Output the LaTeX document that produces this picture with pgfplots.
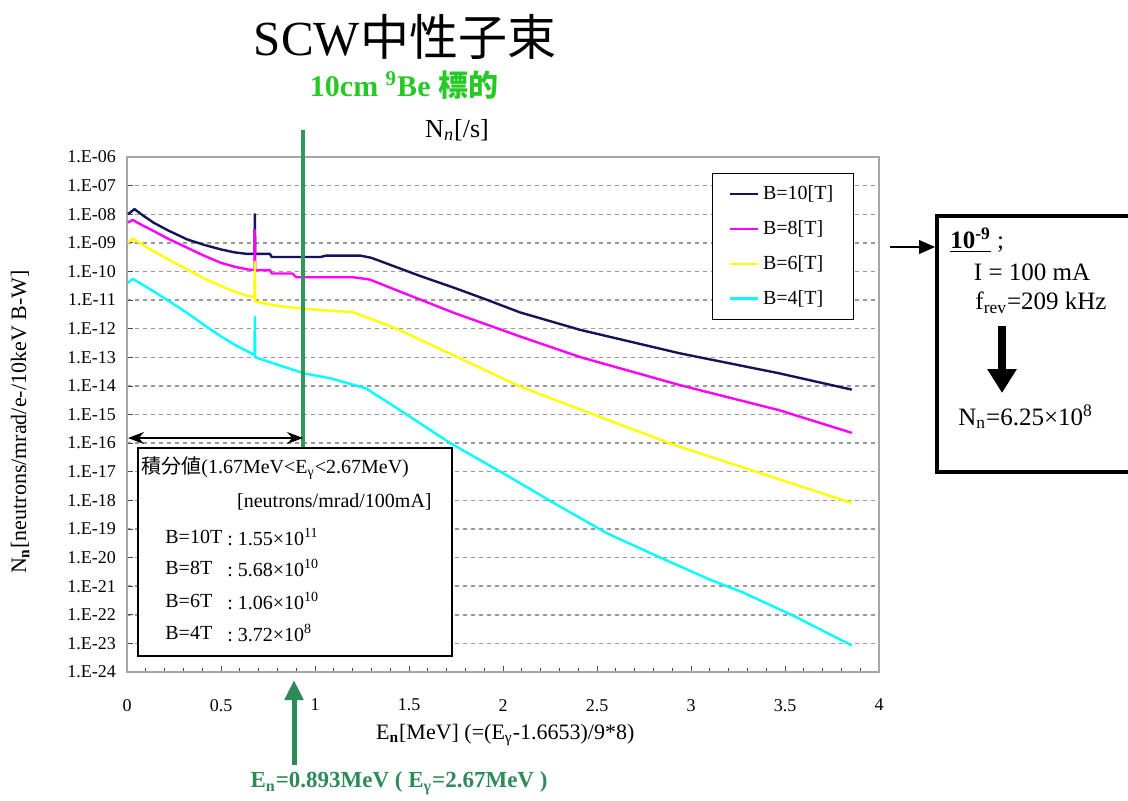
\documentclass[border=0pt]{standalone}
\usepackage{fontspec}
\setmainfont{Liberation Serif}
\newfontfamily\cjk{Noto Sans CJK JP}
\usepackage{pgfplots}
\pgfplotsset{compat=1.18}
\usetikzlibrary{arrows.meta}
\definecolor{navyc}{RGB}{20,20,90}
\definecolor{magc}{RGB}{255,0,255}
\definecolor{yelc}{RGB}{255,255,0}
\definecolor{cyac}{RGB}{0,255,255}
\definecolor{gline}{RGB}{50,150,90}
\definecolor{gtext}{RGB}{40,200,40}
\definecolor{gbot}{RGB}{46,139,87}
\begin{document}
\begin{tikzpicture}
\useasboundingbox (0,0) rectangle (564pt,-400pt);
\begin{axis}[
  at={(63.5pt,-336pt)}, anchor=south west,
  scale only axis, width=376pt, height=257.5pt,
  xmin=0, xmax=4, ymode=log, ymin=1e-24, ymax=1e-6,
  axis line style={gray!70, line width=0.6pt},
  xtick={0,0.5,1,1.5,2,2.5,3,3.5,4},
  xticklabels={0,0.5,1,1.5,2,2.5,3,3.5,4},
  minor x tick num=4,
  ytick={1e-24,1e-23,1e-22,1e-21,1e-20,1e-19,1e-18,1e-17,1e-16,1e-15,1e-14,1e-13,1e-12,1e-11,1e-10,1e-9,1e-8,1e-7,1e-6},
  yticklabels={1.E-24,1.E-23,1.E-22,1.E-21,1.E-20,1.E-19,1.E-18,1.E-17,1.E-16,1.E-15,1.E-14,1.E-13,1.E-12,1.E-11,1.E-10,1.E-09,1.E-08,1.E-07,1.E-06},
  yminorticks=false,
  tick align=inside, tick pos=left,
  major tick length=3pt, minor tick length=2pt,
  tick style={gray!60!black, thin},
  ymajorgrids, major grid style={dash pattern=on 2pt off 2pt, gray!80, line width=0.7pt},
  tick label style={font=\fontsize{9}{10}\selectfont},
  xticklabel style={yshift=-10pt},
  yticklabel style={xshift=-2pt},
  xlabel={E\textsubscript{\textbf{n}}[MeV] (=(E\textsubscript{γ}-1.6653)/9*8)},
  ylabel={N\textsubscript{\textbf{n}}[neutrons/mrad/e-/10keV B-W]},
  label style={font=\fontsize{11}{12}\selectfont},
  xlabel style={at={(axis description cs:0.503,-0.122)}, anchor=center},
  ylabel style={at={(axis description cs:-0.142,0.485)}, anchor=center},
  legend style={at={(axis description cs:0.778,0.969)}, anchor=north west, draw=black, line width=0.6pt, fill=white, font=\fontsize{10}{11}\selectfont, row sep=5pt, inner xsep=8pt, inner ysep=4pt},
  legend cell align=left,
  legend image code/.code={\draw[#1, line width=1.2pt] (0pt,0pt) -- (14pt,0pt);},
  every axis plot/.append style={line width=1.2pt, line join=round},
]
\addplot[navyc] coordinates {(0.005,1.00e-8)(0.04,1.51e-8)(0.08,9.55e-9)(0.14,5.13e-9)(0.22,2.69e-9)(0.32,1.32e-9)(0.41,8.51e-10)(0.50,5.89e-10)(0.57,4.68e-10)(0.64,4.1e-10)(0.678,4.1e-10)(0.68,1.0e-8)(0.682,4.1e-10)(0.76,4.1e-10)(0.77,3.2e-10)(1.03,3.2e-10)(1.06,3.6e-10)(1.24,3.6e-10)(1.30,3.0e-10)(1.38,1.91e-10)(1.56,6.92e-11)(1.74,2.69e-11)(1.91,1.05e-11)(2.09,3.72e-12)(2.41,9.12e-13)(2.94,1.38e-13)(3.47,2.75e-14)(3.855,7.41e-15)};
\addlegendentry{B=10[T]}
\addplot[magc] coordinates {(0.005,5.13e-9)(0.03,6.31e-9)(0.08,4.17e-9)(0.14,2.63e-9)(0.22,1.38e-9)(0.32,6.76e-10)(0.41,3.55e-10)(0.50,2.00e-10)(0.57,1.48e-10)(0.64,1.18e-10)(0.678,1.12e-10)(0.68,2.82e-9)(0.682,1.12e-10)(0.76,1.12e-10)(0.77,8.5e-11)(0.88,8.5e-11)(0.90,6.3e-11)(1.20,6.3e-11)(1.29,5.25e-11)(1.47,1.78e-11)(1.74,3.55e-12)(2.09,5.37e-13)(2.41,1.02e-13)(2.94,1.07e-14)(3.47,1.41e-15)(3.855,2.29e-16)};
\addlegendentry{B=8[T]}
\addplot[yelc] coordinates {(0.005,1.02e-9)(0.03,1.41e-9)(0.08,8.91e-10)(0.14,5.13e-10)(0.22,2.63e-10)(0.32,1.18e-10)(0.41,5.75e-11)(0.50,3.09e-11)(0.57,2.0e-11)(0.64,1.4e-11)(0.678,1.3e-11)(0.68,2.19e-10)(0.682,8.9e-12)(0.80,6.3e-12)(0.94,5.0e-12)(1.03,4.5e-12)(1.20,3.8e-12)(1.38,1.38e-12)(1.45,8.91e-13)(1.74,1.15e-13)(2.09,9.55e-15)(2.51,8.51e-16)(2.91,8.71e-17)(3.37,8.91e-18)(3.855,8.13e-19)};
\addlegendentry{B=6[T]}
\addplot[cyac] coordinates {(0.005,3.98e-11)(0.03,5.50e-11)(0.08,3.55e-11)(0.14,2.04e-11)(0.22,9.55e-12)(0.32,3.55e-12)(0.41,1.35e-12)(0.50,5.37e-13)(0.57,2.82e-13)(0.64,1.62e-13)(0.678,1.23e-13)(0.68,2.63e-12)(0.682,1.0e-13)(0.94,2.75e-14)(1.08,1.86e-14)(1.27,8.3e-15)(1.45,1.45e-15)(1.72,1.0e-16)(2.00,8.91e-18)(2.27,8.13e-19)(2.55,7.24e-20)(2.82,1.12e-20)(3.10,1.70e-21)(3.28,5.89e-22)(3.55,8.91e-23)(3.855,8.51e-24)};
\addlegendentry{B=4[T]}
\end{axis}
\begin{scope}[x=0.5pt,y=-0.5pt]
% title
\node at (405,37) {\fontsize{24.5}{28}\selectfont SCW{\cjk 中性子束}};
\node[text=gtext] at (404,85) {\fontsize{15}{17}\selectfont\bfseries 10cm \textsuperscript{9}Be {\cjk 標的}};
\node at (457,130) {\fontsize{13}{15}\selectfont N\textsubscript{\itshape n}[/s]};
% green line and black double arrow
\draw[gline, line width=2pt] (303,130) -- (303,447);
\draw[fill=white, line width=0.8pt] (138,448) rectangle (452,656);
\draw[{Stealth[length=8pt,width=6pt]}-{Stealth[length=8pt,width=6pt]}, line width=1pt] (128,438) -- (303,438);
% integral box text
\begin{scope}[every node/.style={font=\fontsize{10}{12}\selectfont, inner sep=0pt}]
\node[anchor=west] at (141,468) {{\cjk 積分値}(1.67MeV<E\textsubscript{γ}<2.67MeV)};
\node[anchor=east] at (432,502) {[neutrons/mrad/100mA]};
\node[anchor=west] at (165,537) {B=10T};
\node[anchor=west] at (165,568) {B=8T};
\node[anchor=west] at (165,601) {B=6T};
\node[anchor=west] at (165,633) {B=4T};
\node[anchor=west] at (227,537) {:\ 1.55×10\textsuperscript{11}};
\node[anchor=west] at (227,568) {:\ 5.68×10\textsuperscript{10}};
\node[anchor=west] at (227,601) {:\ 1.06×10\textsuperscript{10}};
\node[anchor=west] at (227,633) {:\ 3.72×10\textsuperscript{8}};
\end{scope}
% right box
\draw[line width=1.6pt] (937,216) rectangle (1140,472);
\draw[-{Triangle[length=8pt,width=7pt]}, line width=0.6pt] (890,247) -- (935,247);
\begin{scope}[every node/.style={font=\fontsize{12.5}{14}\selectfont, inner sep=0pt}]
\node[anchor=west] at (950,240) {\underline{\textbf{10\textsuperscript{-9}}} ;};
\node at (1032,272) {I = 100 mA};
\node at (1041,303) {f\textsubscript{rev}=209 kHz};
\node[anchor=west] at (958,417) {N\textsubscript{n}=6.25×10\textsuperscript{8}};
\end{scope}
\draw[-{Triangle[length=12pt,width=14pt]}, line width=4pt] (1002,326) -- (1002,393);
% bottom green arrow and text
\draw[-{Triangle[length=10pt,width=9pt]}, gbot, line width=2.5pt] (294,765) -- (294,680);
\node[text=gbot] at (399,783) {\fontsize{11.5}{13}\selectfont\bfseries E\textsubscript{n}=0.893MeV ( E\textsubscript{γ}=2.67MeV )};
\end{scope}
\end{tikzpicture}
\end{document}
